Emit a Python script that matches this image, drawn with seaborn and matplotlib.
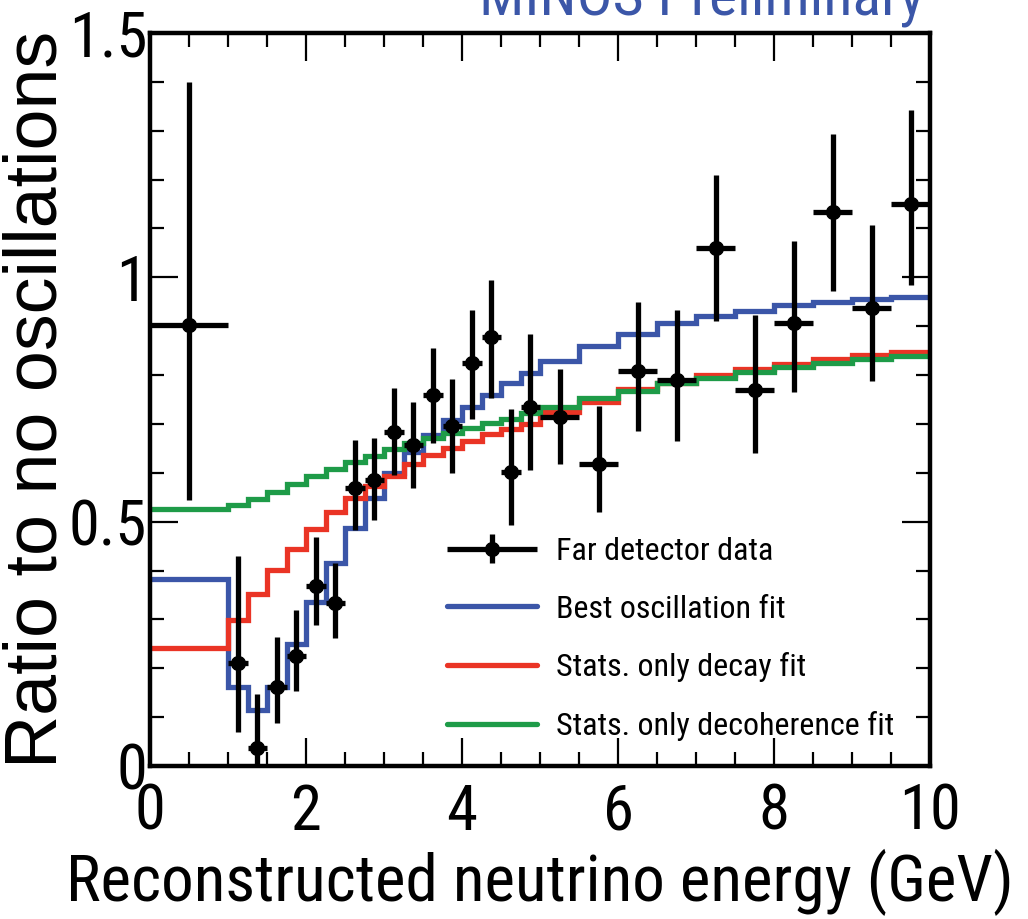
import numpy as np
import pandas as pd
import matplotlib
matplotlib.use("Agg")
import matplotlib.pyplot as plt
from matplotlib import font_manager
from matplotlib.font_manager import FontProperties
from matplotlib.legend_handler import HandlerErrorbar
from matplotlib.ticker import MultipleLocator, FixedLocator, FuncFormatter
import seaborn as sns

# ---- data -------------------------------------------------------------
# bin edges (GeV): one 1 GeV bin, 0.25 GeV bins up to 5 GeV, 0.5 GeV bins up to 10 GeV
bin_edges = [0.0, 1.0, 1.25, 1.5, 1.75, 2.0, 2.25, 2.5, 2.75, 3.0, 3.25, 3.5,
             3.75, 4.0, 4.25, 4.5, 4.75, 5.0, 5.5, 6.0, 6.5, 7.0, 7.5, 8.0,
             8.5, 9.0, 9.5, 10.0]

data_ratio = [0.902, 0.211, 0.037, 0.161, 0.225, 0.368, 0.333, 0.568, 0.586,
              0.684, 0.657, 0.759, 0.696, 0.824, 0.877, 0.602, 0.735, 0.715,
              0.619, 0.809, 0.790, 1.061, 0.769, 0.907, 1.133, 0.937, 1.151]
data_upper = [1.400, 0.430, 0.147, 0.265, 0.319, 0.468, 0.416, 0.667, 0.672,
              0.773, 0.745, 0.855, 0.791, 0.933, 0.994, 0.730, 0.885, 0.813,
              0.737, 0.950, 0.934, 1.209, 0.923, 1.074, 1.293, 1.108, 1.343]
data_lower = [0.544, 0.070, -0.050, 0.087, 0.154, 0.289, 0.261, 0.483, 0.503,
              0.595, 0.568, 0.661, 0.599, 0.711, 0.754, 0.493, 0.606, 0.617,
              0.520, 0.686, 0.665, 0.911, 0.641, 0.766, 0.972, 0.788, 0.984]

best_osc_fit = [0.382, 0.161, 0.115, 0.162, 0.250, 0.336, 0.416, 0.488, 0.548,
                0.599, 0.643, 0.677, 0.708, 0.735, 0.759, 0.783, 0.804, 0.829,
                0.859, 0.885, 0.907, 0.921, 0.932, 0.943, 0.950, 0.955, 0.960]
decay_fit = [0.242, 0.299, 0.352, 0.402, 0.445, 0.486, 0.520, 0.548, 0.573,
             0.593, 0.617, 0.636, 0.650, 0.665, 0.679, 0.690, 0.700, 0.724,
             0.745, 0.771, 0.784, 0.800, 0.812, 0.823, 0.833, 0.841, 0.848]
decoherence_fit = [0.525, 0.534, 0.546, 0.561, 0.578, 0.593, 0.607, 0.623, 0.635,
                   0.649, 0.660, 0.671, 0.682, 0.691, 0.701, 0.711, 0.722, 0.735,
                   0.754, 0.768, 0.783, 0.795, 0.807, 0.816, 0.825, 0.832, 0.839]

series_labels = ["Far detector data", "Best oscillation fit",
                 "Stats. only decay fit", "Stats. only decoherence fit"]
x_label = "Reconstructed neutrino energy (GeV)"
y_label = "Ratio to no oscillations"
banner = "MINOS Preliminary"

# ---- style ------------------------------------------------------------
BLUE = "#3b56a8"
RED = "#ea3425"
GREEN = "#1e9b48"

sns.set_style("ticks")
plt.rcParams["font.family"] = ["Liberation Sans", "DejaVu Sans"]
for key in ["text.color", "axes.labelcolor", "xtick.color", "ytick.color",
            "axes.edgecolor"]:
    plt.rcParams[key] = "black"


def narrow_font():
    """Pick an installed narrow sans-serif face and a width correction for it."""
    prefs = [("LiberationSansNarrow-Regular", 1.0),
             ("RobotoCondensed-Regular", 0.92), ("Roboto-Condensed", 0.92),
             ("NotoSans-Condensed.", 0.9), ("NotoSans-CondensedRegular", 0.9),
             ("OpenSans_Condensed-Regular", 0.9), ("OpenSansCondensed", 0.9)]
    files = [f.fname for f in font_manager.fontManager.ttflist]
    for p, k in prefs:
        for fn in files:
            if p.lower() in fn.lower():
                return fn, k
    return None, 0.8


narrow_path, WIDTH_K = narrow_font()


def hfont(size):
    if narrow_path:
        return FontProperties(fname=narrow_path, size=size * WIDTH_K)
    return FontProperties(family="Liberation Sans", size=size * WIDTH_K)


fig = plt.figure(figsize=(10.28, 9.19), dpi=100)
ax = fig.add_axes([150 / 1028, 1 - 766 / 919, 780 / 1028, 733 / 919])

edges = np.array(bin_edges)
centers = 0.5 * (edges[:-1] + edges[1:])
half_w = 0.5 * np.diff(edges)


def step_frame(values):
    return pd.DataFrame({"E": edges, "ratio": list(values) + [values[-1]]})


for vals, col, lab in [(best_osc_fit, BLUE, series_labels[1]),
                       (decay_fit, RED, series_labels[2]),
                       (decoherence_fit, GREEN, series_labels[3])]:
    sns.lineplot(data=step_frame(vals), x="E", y="ratio", drawstyle="steps-post",
                 color=col, lw=3.8, label=lab, ax=ax, solid_joinstyle="miter",
                 zorder=2)

y = np.array(data_ratio)
yerr = np.vstack([y - np.array(data_lower), np.array(data_upper) - y])
eb = ax.errorbar(centers, y, xerr=half_w, yerr=yerr, fmt="o", color="black",
                 ms=10, elinewidth=3.8, capsize=0, zorder=4,
                 label=series_labels[0])

# ---- axes -------------------------------------------------------------
ax.set_xlim(0, 10)
ax.set_ylim(0, 1.5)
ax.xaxis.set_major_locator(MultipleLocator(2))
ax.xaxis.set_minor_locator(MultipleLocator(0.5))
ax.yaxis.set_major_locator(FixedLocator([0, 0.5, 1.0, 1.5]))
ax.yaxis.set_minor_locator(MultipleLocator(0.1))
ax.yaxis.set_major_formatter(FuncFormatter(lambda v, p: f"{v:g}"))
ax.tick_params(which="both", direction="in", top=True, right=True,
               colors="black")
ax.tick_params(which="major", length=20, width=1.6)
ax.tick_params(which="minor", length=10, width=1.6)
ax.tick_params(axis="x", pad=12)
ax.tick_params(axis="y", pad=2)
for sp in ax.spines.values():
    sp.set_visible(True)
    sp.set_linewidth(3.2)
    sp.set_color("black")

fig.canvas.draw()
for lbl in ax.get_xticklabels() + ax.get_yticklabels():
    lbl.set_fontproperties(hfont(49))

# x label sits right at the bottom edge of the figure
ax.set_xlabel(x_label, fontproperties=hfont(51))
ax.xaxis.set_label_coords(0.5, (3 - 153) / 733)
ax.xaxis.label.set_va("bottom")
ax.set_ylabel(y_label, fontsize=53, family=["Liberation Sans", "DejaVu Sans"])
ax.yaxis.set_label_coords(-0.1, 0.5)

# ---- legend -----------------------------------------------------------
handles, labels = ax.get_legend_handles_labels()
order = [labels.index(l) for l in series_labels]
leg = ax.legend([handles[i] for i in order], [labels[i] for i in order],
                loc="lower left", bbox_to_anchor=(0.381, 0.034), frameon=False,
                prop=hfont(25), handlelength=2.8, handletextpad=0.6,
                labelspacing=0.9, borderpad=0, borderaxespad=0,
                handler_map={eb: HandlerErrorbar(xerr_size=1.4, yerr_size=0.46)})

fig.text(924 / 1028, 1 - 14.5 / 919, banner, ha="right", va="baseline",
         color=BLUE, fontproperties=hfont(47))

fig.savefig("out.png", dpi=100, facecolor="white")
